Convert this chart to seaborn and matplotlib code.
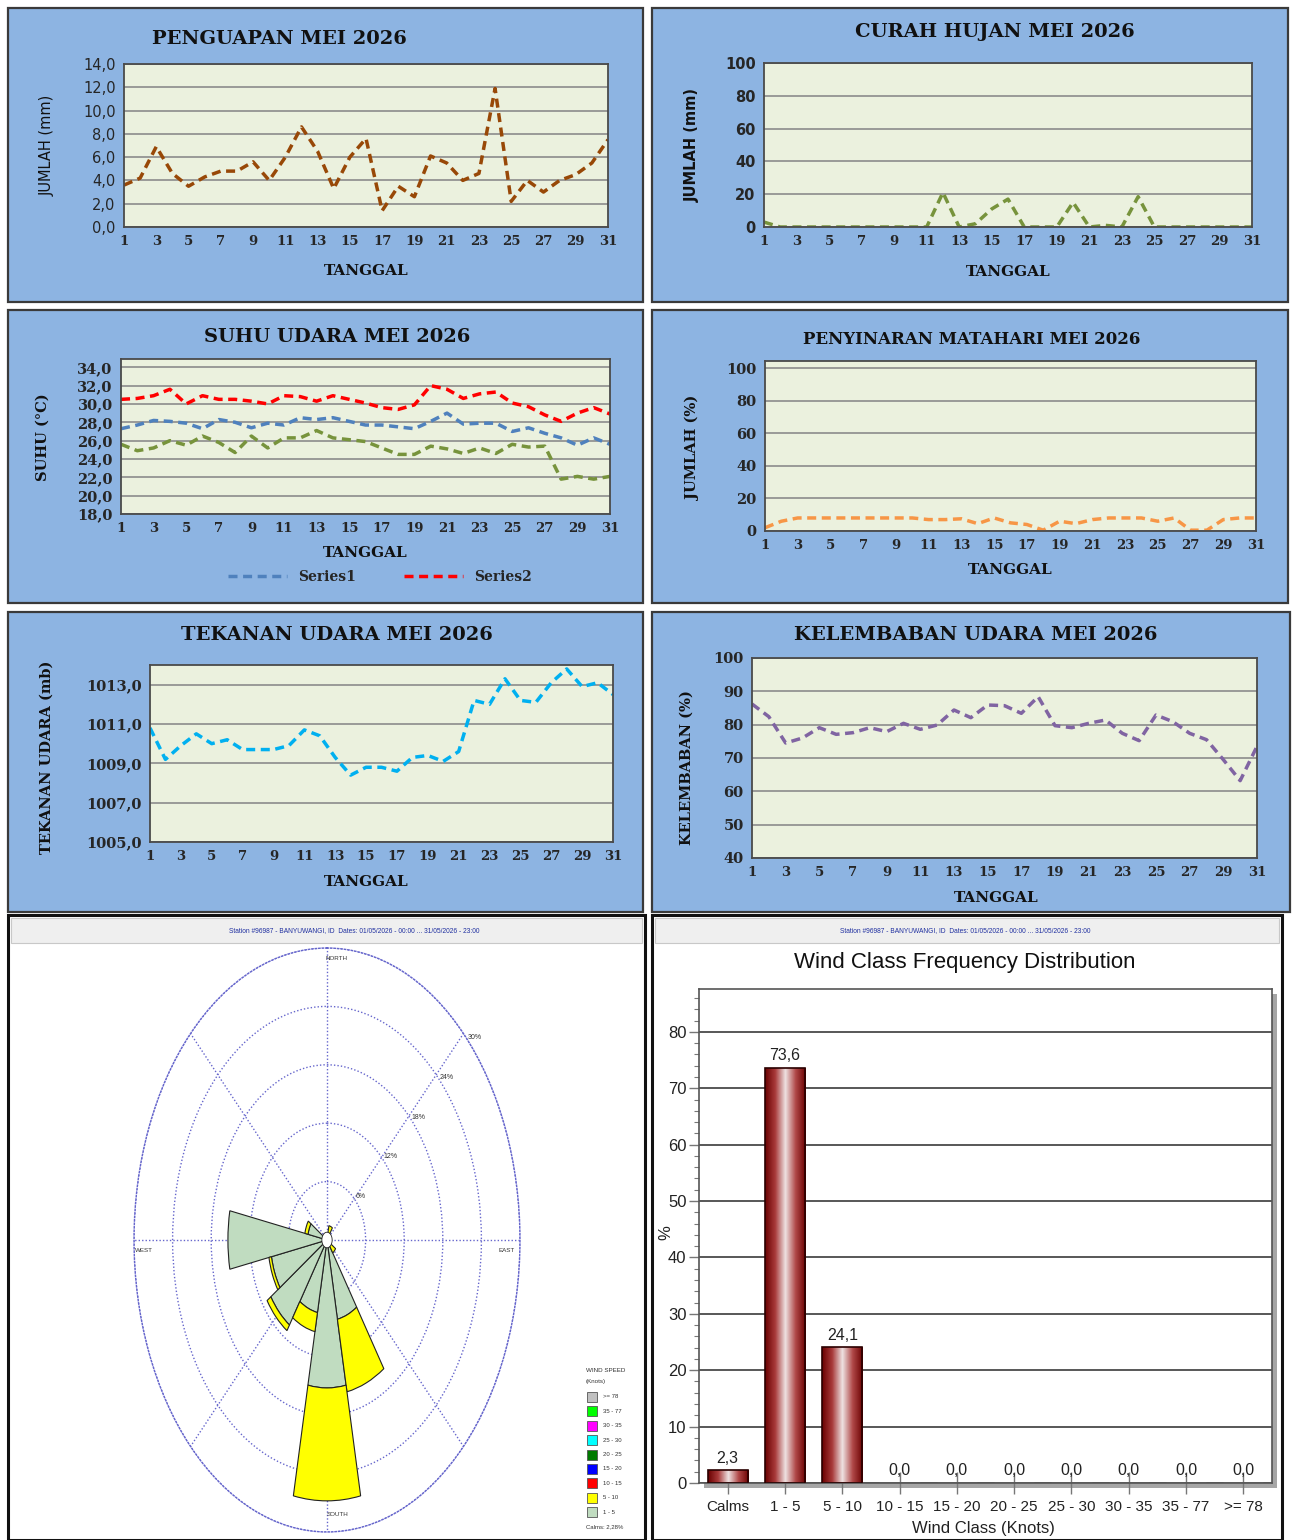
import numpy as np
import matplotlib
matplotlib.use('Agg')
import matplotlib.pyplot as plt
import seaborn as sns
from matplotlib.patches import Rectangle
from matplotlib.colors import LinearSegmentedColormap
from matplotlib.ticker import MultipleLocator

W, H = 1295, 1540

# ---- data ----
days = list(range(1, 32))
penguapan = [3.6, 4.2, 6.9, 4.6, 3.5, 4.3, 4.8, 4.8, 5.6, 4.0, 6.0, 8.6, 6.5, 3.3, 6.0, 7.6,
             1.4, 3.5, 2.6, 6.1, 5.5, 4.0, 4.6, 11.9, 2.2, 4.0, 3.0, 4.0, 4.5, 5.5, 7.5]
curah_hujan = [3, 0, 0, 0, 0, 0, 0, 0, 0, 0, 0, 21, 0, 2, 11, 17,
               0, 0, 0, 15, 0, 1, 0, 18.5, 0, 0, 0, 0, 0, 0, 0]
suhu_rata = [27.3, 27.7, 28.2, 28.1, 27.9, 27.3, 28.3, 28.0, 27.4, 27.9, 27.7, 28.5, 28.3, 28.5, 28.1, 27.7,
             27.7, 27.5, 27.3, 28.1, 29.0, 27.8, 27.9, 27.9, 27.0, 27.4, 26.8, 26.3, 25.5, 26.3, 25.6]
suhu_max = [30.5, 30.6, 30.9, 31.6, 30.0, 30.9, 30.5, 30.5, 30.3, 30.0, 30.9, 30.8, 30.3, 30.9, 30.5, 30.1,
            29.6, 29.4, 29.9, 32.0, 31.6, 30.6, 31.1, 31.3, 30.1, 29.7, 28.8, 28.1, 29.0, 29.6, 28.9]
suhu_min = [25.6, 24.9, 25.2, 26.0, 25.5, 26.5, 25.8, 24.7, 26.5, 25.2, 26.3, 26.3, 27.1, 26.3, 26.1, 25.9,
            25.2, 24.5, 24.5, 25.4, 25.1, 24.6, 25.2, 24.6, 25.6, 25.3, 25.4, 21.8, 22.1, 21.8, 22.1]
penyinaran = [2, 6, 8, 8, 8, 8, 8, 8, 8, 8, 7, 7, 7.5, 4.5, 8, 5,
              4, 0.5, 6, 4.5, 7, 8, 8, 8, 6, 8, 0.5, 0.5, 7, 8, 8]
tekanan = [1010.8, 1009.2, 1009.9, 1010.5, 1010.0, 1010.2, 1009.7, 1009.7, 1009.7, 1009.9, 1010.7,
           1010.4, 1009.3, 1008.4, 1008.8, 1008.8, 1008.6, 1009.3, 1009.4, 1009.1, 1009.6, 1012.2,
           1012.0, 1013.3, 1012.2, 1012.1, 1013.1, 1013.8, 1012.9, 1013.1, 1012.5]
kelembaban = [86.2, 82.4, 74.5, 76.0, 79.1, 77.1, 77.6, 79.1, 77.9, 80.4, 78.6, 79.9, 84.4, 82.1, 85.9, 85.7,
              83.4, 88.4, 79.7, 79.1, 80.4, 81.4, 77.4, 75.2, 82.9, 80.9, 77.4, 75.5, 69.5, 63.2, 73.5]

wind_classes = ['Calms', '1 - 5', '5 - 10', '10 - 15', '15 - 20', '20 - 25', '25 - 30', '30 - 35', '35 - 77', '>= 78']
wind_freq = [2.3, 73.6, 24.1, 0.0, 0.0, 0.0, 0.0, 0.0, 0.0, 0.0]

rose_dirs = [0, 22.5, 45, 67.5, 90, 112.5, 135, 157.5, 180, 202.5, 225, 247.5, 270, 292.5, 315, 337.5]
rose_1_5 = [0, 0, 0, 0, 0, 0, 0, 8.3, 15.2, 7.6, 10.5, 8.8, 15.4, 3.0, 0, 0]
rose_5_10 = [0, 1.5, 0, 0, 0, 0, 1.6, 7.6, 11.6, 2.0, 0.7, 0.4, 0, 0.5, 0, 0]

speed_labels = ['>= 78', '35 - 77', '30 - 35', '25 - 30', '20 - 25', '15 - 20', '10 - 15', '5 - 10', '1 - 5']
speed_colors = ['#C0C0C0', '#00FF00', '#FF00FF', '#00FFFF', '#007A00', '#0000FF', '#FF0000', '#FFFF00', '#C0DCC0']

sns.set_style('white')
plt.rcParams['font.family'] = ['DejaVu Sans']
NARROW = ['Liberation Sans', 'DejaVu Sans']
SERIF = 'DejaVu Serif'

fig = plt.figure(figsize=(W / 100, H / 100), dpi=100)


def px_axes(x0, y0, x1, y1, **kw):
    return fig.add_axes([x0 / W, 1 - y1 / H, (x1 - x0) / W, (y1 - y0) / H], **kw)


def px_rect(x0, y0, x1, y1, **kw):
    r = Rectangle((x0 / W, 1 - y1 / H), (x1 - x0) / W, (y1 - y0) / H, transform=fig.transFigure, **kw)
    fig.add_artist(r)
    return r


def px_text(x, y, s, **kw):
    kw.setdefault('ha', 'center')
    kw.setdefault('va', 'center')
    return fig.text(x / W, 1 - y / H, s, **kw)


def fmt_comma(v, nd=1):
    return f"{v:.{nd}f}".replace('.', ',')


def line_panel(box, axbox, title, tpos, tsize, ylabel, ypos, xpos, ylim, yticks, ylabels,
               series, yfont='serif', ylab_font=None):
    px_rect(*box, facecolor='#8DB4E2', edgecolor='#3A3A3A', linewidth=1.6, zorder=-5)
    ax = px_axes(*axbox)
    ax.set_facecolor('#EBF1DE')
    for vals, col, lab in series:
        sns.lineplot(x=days, y=vals, color=col, linewidth=2.5, ax=ax, label=lab, legend=False)
        ax.lines[-1].set_dashes([2.6, 1.6])
    ax.set_xlim(1, 31)
    ax.set_ylim(*ylim)
    ax.set_xticks(days[::2])
    ax.set_xticklabels([str(d) for d in days[::2]], fontfamily=SERIF, fontweight='bold',
                       fontsize=9.5, color='#262626')
    ax.set_yticks(yticks)
    if yfont == 'serif':
        ax.set_yticklabels(ylabels, fontfamily=SERIF, fontweight='bold', fontsize=10.5, color='#262626')
    else:
        ax.set_yticklabels(ylabels, fontfamily='DejaVu Sans', fontweight=yfont, fontsize=10.5, color='#262626')
    ax.tick_params(length=0, pad=6)
    ax.yaxis.grid(True, color='#8C8C8C', linewidth=1.2)
    ax.xaxis.grid(False)
    ax.set_axisbelow(True)
    for s in ax.spines.values():
        s.set_color('#4A4A4A')
        s.set_linewidth(1.3)
    ax.set_xlabel('')
    ax.set_ylabel('')
    px_text(*tpos, title, fontfamily=SERIF, fontweight='bold', fontsize=tsize, color='#111111')
    px_text(*xpos, 'TANGGAL', fontfamily=SERIF, fontweight='bold', fontsize=11, color='#111111')
    if ylab_font is None:
        ylab_font = {'fontfamily': SERIF, 'fontweight': 'bold'}
    px_text(*ypos, ylabel, fontsize=10.5, color='#111111', rotation=90, **ylab_font)
    return ax


# ---- row 1 ----
line_panel((8, 8, 643, 302), (124, 64, 608, 227), 'PENGUAPAN MEI 2026', (279, 39), 14,
           'JUMLAH (mm)', (47, 145), (366, 271), (0, 14), np.arange(0, 15, 2),
           [fmt_comma(v) for v in np.arange(0, 15, 2)],
           [(penguapan, '#984807', None)], yfont='normal',
           ylab_font={'fontfamily': 'DejaVu Sans', 'fontweight': 'normal'})
line_panel((652, 8, 1288, 302), (764, 63, 1252, 227), 'CURAH HUJAN MEI 2026', (995, 32), 14,
           'JUMLAH (mm)', (692, 145), (1008, 272), (0, 100), np.arange(0, 101, 20),
           [str(v) for v in np.arange(0, 101, 20)],
           [(curah_hujan, '#77933C', None)], yfont='bold',
           ylab_font={'fontfamily': 'DejaVu Sans', 'fontweight': 'bold'})

# ---- row 2 ----
ax3 = line_panel((8, 310, 643, 603), (121, 359, 610, 514), 'SUHU UDARA MEI 2026', (337, 337), 14,
                 'SUHU (°C)', (43, 437), (365, 553), (18, 34.9), np.arange(18, 35, 2),
                 [fmt_comma(v) for v in np.arange(18, 35, 2)],
                 [(suhu_rata, '#4F81BD', 'Series1'), (suhu_max, '#FF0000', 'Series2'),
                  (suhu_min, '#77933C', None)])
h, l = ax3.get_legend_handles_labels()
ax3.legend(h[:2], l[:2], loc='center', bbox_to_anchor=(380 / W, 1 - 577 / H), bbox_transform=fig.transFigure,
           ncol=2, frameon=False, handlelength=4.2, columnspacing=3.5,
           prop={'family': SERIF, 'weight': 'bold', 'size': 10})

line_panel((652, 310, 1288, 603), (765, 361, 1256, 531), 'PENYINARAN MATAHARI MEI 2026', (972, 339), 12,
           'JUMLAH (%)', (693, 448), (1010, 570), (0, 104.3), np.arange(0, 101, 20),
           [str(v) for v in np.arange(0, 101, 20)],
           [(penyinaran, '#F79646', None)])

# ---- row 3 ----
line_panel((8, 612, 643, 912), (150, 665, 613, 842), 'TEKANAN UDARA MEI 2026', (337, 635), 14,
           'TEKANAN UDARA (mb)', (47, 757), (366, 882), (1005, 1014), np.arange(1005, 1014, 2),
           [fmt_comma(v) for v in np.arange(1005, 1014, 2)],
           [(tekanan, '#00B0F0', None)])
line_panel((652, 612, 1290, 912), (752, 658, 1257, 858), 'KELEMBABAN UDARA MEI 2026', (976, 635), 14,
           'KELEMBABAN (%)', (687, 768), (996, 898), (40, 100), np.arange(40, 101, 10),
           [str(v) for v in np.arange(40, 101, 10)],
           [(kelembaban, '#8064A2', None)])

# ---- row 4 frames and headers ----
header = 'Station #96987 - BANYUWANGI, ID  Dates: 01/05/2026 - 00:00 ... 31/05/2026 - 23:00'
for (x0, x1, cx) in [(8, 645, 354), (652, 1282, 965)]:
    px_rect(x0, 915, x1, 1540, facecolor='white', edgecolor='#111111', linewidth=2.2, zorder=-5)
    px_rect(x0 + 3, 918, x1 - 3, 943, facecolor='#EFEFEF', edgecolor='#C8C8C8', linewidth=0.8, zorder=-4)
    px_text(cx, 931, header, fontfamily=NARROW, fontsize=4.8, color='#2030A0')

# ---- wind rose ----
axr = px_axes(134, 948, 520, 1532, projection='polar')
axr.set_theta_zero_location('N')
axr.set_theta_direction(-1)
theta = np.deg2rad(rose_dirs)
g = np.array(rose_1_5)
y5 = np.array(rose_5_10)
wdt = np.deg2rad(22.5)
m1 = g > 0
axr.bar(theta[m1], g[m1], width=wdt, bottom=0, color='#C0DCC0', edgecolor='#222222', linewidth=0.8, zorder=3)
m2 = y5 > 0
axr.bar(theta[m2], y5[m2], width=wdt, bottom=g[m2], color='#FFFF00', edgecolor='#222222', linewidth=0.8, zorder=3)
circ = np.linspace(0, 2 * np.pi, 80)
axr.fill(circ, np.full_like(circ, 0.8), facecolor='white', edgecolor='#222222', linewidth=0.6, zorder=4)
axr.set_ylim(0, 30)
axr.set_yticks([6, 12, 18, 24, 30])
axr.set_yticklabels(['6%', '12%', '18%', '24%', '30%'], fontsize=5, color='#333333', fontfamily=NARROW)
axr.set_rlabel_position(47)
axr.set_xticks(np.deg2rad(np.arange(0, 360, 45)))
axr.set_xticklabels([])
axr.grid(True, color='#6666CC', linestyle=(0, (1, 1.5)), linewidth=1.0)
axr.spines['polar'].set_color('#6666CC')
axr.spines['polar'].set_linestyle((0, (1, 1.5)))
axr.spines['polar'].set_linewidth(1.0)
axr.set_facecolor('none')
axr.set_aspect('auto')
px_text(337, 958, 'NORTH', fontsize=4.5, fontfamily=NARROW, color='#333333')
px_text(338, 1515, 'SOUTH', fontsize=4.5, fontfamily=NARROW, color='#333333')
px_text(144, 1250, 'WEST', fontsize=4.5, fontfamily=NARROW, color='#333333')
px_text(507, 1250, 'EAST', fontsize=4.5, fontfamily=NARROW, color='#333333')

# rose legend
px_text(586, 1370, 'WIND SPEED', fontsize=4.5, fontfamily=NARROW, color='#333333', ha='left')
px_text(586, 1381, '(Knots)', fontsize=4.5, fontfamily=NARROW, color='#333333', ha='left')
for i, (lab, col) in enumerate(zip(speed_labels, speed_colors)):
    yy = 1397 + i * 14.4
    px_rect(587, yy - 5, 597, yy + 5, facecolor=col, edgecolor='#555555', linewidth=0.6)
    px_text(603, yy, lab, fontsize=4.3, fontfamily=NARROW, color='#333333', ha='left')
px_text(586, 1527, 'Calms: 2,28%', fontsize=4.3, fontfamily=NARROW, color='#333333', ha='left')

# ---- wind class frequency distribution ----
px_rect(704, 994, 1277, 1488, facecolor='#A6A6A6', edgecolor='none', zorder=-3)
axb = px_axes(699, 989, 1272, 1483)
axb.set_facecolor('white')
sns.barplot(x=wind_classes, y=wind_freq, color='#8B0000', width=0.7, saturation=1, ax=axb, zorder=2)
cyl = LinearSegmentedColormap.from_list('cyl', ['#6A0000', '#A83A3A', '#EEE2E2', '#B04848', '#6A0000'])
grad = np.linspace(0, 1, 256).reshape(1, -1)
for p in list(axb.patches):
    if p.get_height() <= 0:
        continue
    x0, y0, w, hh = p.get_x(), p.get_y(), p.get_width(), p.get_height()
    im = axb.imshow(grad, cmap=cyl, extent=[x0, x0 + w, y0, y0 + hh], aspect='auto', zorder=2.5)
    im.set_clip_path(p)
    p.set_facecolor('none')
    p.set_edgecolor('#2A0000')
    p.set_linewidth(1.2)
    p.set_zorder(3)
for i, v in enumerate(wind_freq):
    axb.text(i, v + 0.8, fmt_comma(v), ha='center', va='bottom', fontsize=11.5, fontfamily=NARROW, color='#222222')
axb.set_xlim(-0.5, 9.5)
axb.set_ylim(0, 87.6)
axb.set_yticks(np.arange(0, 81, 10))
axb.yaxis.set_minor_locator(MultipleLocator(2))
axb.yaxis.grid(True, color='#4A4A4A', linewidth=1.3)
axb.set_axisbelow(True)
axb.tick_params(axis='y', which='major', left=True, length=7, width=1, color='#777777', labelsize=12, pad=2)
axb.tick_params(axis='y', which='minor', left=True, length=3.5, width=0.8, color='#777777')
axb.tick_params(axis='x', bottom=True, direction='inout', length=16, width=1, color='#777777', labelsize=11, pad=4)
for lab in axb.get_xticklabels() + axb.get_yticklabels():
    lab.set_fontfamily(NARROW)
    lab.set_color('#222222')
for s in axb.spines.values():
    s.set_color('#555555')
    s.set_linewidth(1.2)
axb.set_xlabel('')
axb.set_ylabel('')
px_text(965, 962, 'Wind Class Frequency Distribution', fontsize=16, fontfamily=NARROW, color='#111111')
px_text(666, 1233, '%', fontsize=12, fontfamily=NARROW, color='#222222', rotation=90)
px_text(983, 1528, 'Wind Class (Knots)', fontsize=12, fontfamily=NARROW, color='#222222')

fig.savefig('out.png', dpi=100)
